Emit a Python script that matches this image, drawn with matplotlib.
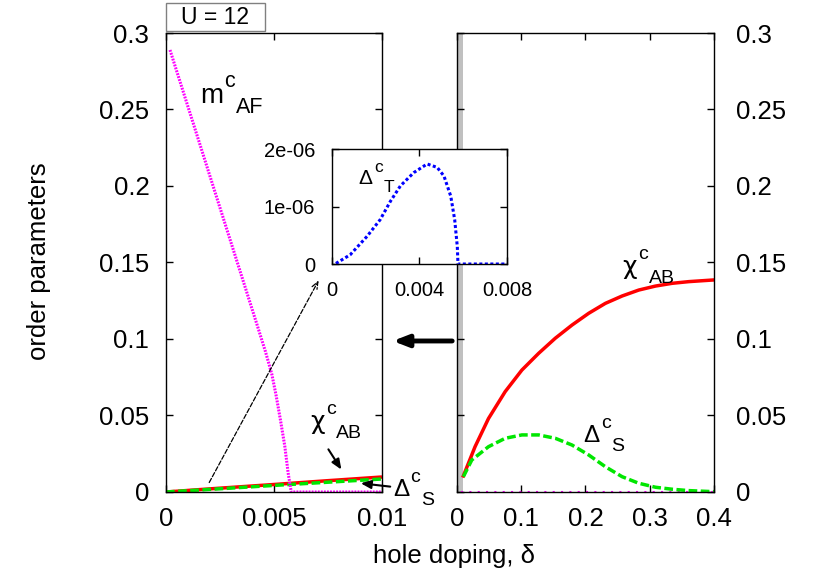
import numpy as np
import matplotlib
matplotlib.use('Agg')
import matplotlib.pyplot as plt
from matplotlib.patches import Rectangle

plt.rcParams['font.family'] = ['Liberation Sans', 'DejaVu Sans']

# ---- data ----
# left panel, 0 <= delta <= 0.01
mAF_x = [0.000185, 0.0012, 0.0022, 0.0032, 0.0042, 0.0046, 0.0049, 0.0051, 0.0053, 0.0055, 0.00566,
         0.0058, 0.006, 0.008, 0.01]
mAF_y = [0.2889, 0.2437, 0.1991, 0.1546, 0.1100, 0.092, 0.077, 0.063, 0.047, 0.030, 0.012,
         0.0, 0.0, 0.0, 0.0]
chiL_x = [0, 0.0025, 0.005, 0.0075, 0.01]
chiL_y = [0, 0.0025, 0.0049, 0.0074, 0.0098]
dSL_x = [0, 0.0025, 0.005, 0.0075, 0.01]
dSL_y = [0, 0.0021, 0.0043, 0.0064, 0.0085]

# right panel, 0 <= delta <= 0.4
chiR_x = [0.0099, 0.0281, 0.049, 0.075, 0.101, 0.127, 0.153, 0.179, 0.205, 0.231, 0.257,
          0.283, 0.309, 0.335, 0.361, 0.4]
chiR_y = [0.0105, 0.0296, 0.0480, 0.0656, 0.0797, 0.0906, 0.1005, 0.1091, 0.1168, 0.1233, 0.1281,
          0.1320, 0.1346, 0.1364, 0.1375, 0.1386]
dSR_x = [0.0099, 0.023, 0.049, 0.075, 0.101, 0.127, 0.153, 0.179, 0.205, 0.231, 0.257,
         0.283, 0.309, 0.335, 0.361, 0.4]
dSR_y = [0.0100, 0.0209, 0.0296, 0.0351, 0.0373, 0.0373, 0.0351, 0.0307, 0.0242, 0.0165, 0.0100,
         0.0057, 0.0031, 0.0018, 0.0009, 0.0002]
mAFR_x = [0.006, 0.4]
mAFR_y = [0.0, 0.0]

# inset, triplet gap
dT_x = [0.00018, 0.00083, 0.0016, 0.0022, 0.00267, 0.00313, 0.00374, 0.00435, 0.00481, 0.00512,
        0.00543, 0.00561, 0.00573, 0.00576, 0.006, 0.007, 0.008]
dT_y = [0.01e-6, 0.16e-6, 0.48e-6, 0.77e-6, 1.09e-6, 1.36e-6, 1.59e-6, 1.74e-6, 1.68e-6, 1.53e-6,
        1.18e-6, 0.77e-6, 0.30e-6, 0, 0, 0, 0]

left_xticks = [0, 0.005, 0.01]
left_xlabels = ['0', '0.005', '0.01']
right_xticks = [0, 0.1, 0.2, 0.3, 0.4]
right_xlabels = ['0', '0.1', '0.2', '0.3', '0.4']
yticks = [0, 0.05, 0.1, 0.15, 0.2, 0.25, 0.3]
ylabels = ['0', '0.05', '0.1', '0.15', '0.2', '0.25', '0.3']
inset_xticks = [0, 0.004, 0.008]
inset_xlabels = ['0', '0.004', '0.008']
inset_yticks = [0, 1e-6, 2e-6]
inset_ylabels = ['0', '1e-06', '2e-06']

RED = '#ff0000'
GREEN = '#00e600'
MAG = '#ff00ff'
BLUE = '#0000ff'
FS = 18.5

fig = plt.figure(figsize=(8.3, 5.81), dpi=100)
renderer = fig.canvas.get_renderer()
ax1 = fig.add_axes([0.2, 0.1532, 0.2602, 0.79])
ax2 = fig.add_axes([0.5506, 0.1532, 0.3096, 0.79])
ax3 = fig.add_axes([0.4, 0.5456, 0.2108, 0.1979])


def curve_label(ax, x, y, base, sup, sub, fs, sfs, family=None):
    # gnuplot style label: base, then superscript, then subscript after it
    t = ax.text(x, y, base, fontsize=fs, ha='left', va='baseline', family=family)
    w = t.get_window_extent(renderer).width * 72 / fig.dpi
    s = ax.annotate(sup, (x, y), xytext=(w + 1, 0.58 * fs), textcoords='offset points',
                    fontsize=sfs, va='baseline', annotation_clip=False)
    w2 = s.get_window_extent(renderer).width * 72 / fig.dpi
    ax.annotate(sub, (x, y), xytext=(w + 1.5 + w2, -0.36 * fs), textcoords='offset points',
                fontsize=sfs, va='baseline', annotation_clip=False)


for ax in (ax1, ax2, ax3):
    for s in ax.spines.values():
        s.set_linewidth(1.0)
    ax.tick_params(direction='in', top=True, right=True, length=5, width=1)

# left panel
ax1.plot(chiL_x, chiL_y, color=RED, lw=2.5, solid_capstyle='butt')
ax1.plot(dSL_x, dSL_y, color=GREEN, lw=2.5, ls=(0, (2.5, 1)))
ax1.plot(mAF_x, mAF_y, color=MAG, lw=2.2, ls=(0, (0.6, 0.4)))
ax1.set_xlim(0, 0.01)
ax1.set_ylim(0, 0.3)
ax1.set_xticks(left_xticks, left_xlabels)
ax1.set_yticks(yticks, ylabels)
ax1.tick_params(axis='both', labelsize=FS)
ax1.tick_params(axis='y', pad=12)
ax1.tick_params(axis='x', pad=11)

# right panel
ax2.axvspan(0, 0.01, color='#c0c0c0', lw=0)
ax2.plot(mAFR_x, mAFR_y, color=MAG, lw=1.5, ls=(0, (1, 3)), clip_on=False)
ax2.plot(chiR_x, chiR_y, color=RED, lw=2.5)
ax2.plot(dSR_x, dSR_y, color=GREEN, lw=2.5, ls=(0, (2.5, 1)))
ax2.set_xlim(0, 0.4)
ax2.set_ylim(0, 0.3)
ax2.set_xticks(right_xticks, right_xlabels)
ax2.set_yticks(yticks, ylabels)
ax2.tick_params(axis='both', labelsize=FS)
ax2.tick_params(axis='y', labelleft=False, labelright=True, pad=16)
ax2.tick_params(axis='x', pad=11)

# inset
ax3.plot(dT_x, dT_y, color=BLUE, lw=2.2, ls=(0, (1, 0.8)))
ax3.set_xlim(0, 0.008)
ax3.set_ylim(0, 2e-6)
ax3.set_xticks(inset_xticks, inset_xlabels)
ax3.set_yticks(inset_yticks, inset_ylabels)
ax3.tick_params(axis='both', labelsize=14.5)
ax3.tick_params(axis='y', pad=12)
ax3.tick_params(axis='x', pad=12)

# curve labels
curve_label(ax1, 0.00157, 0.2542, 'm', 'c', 'AF', 20, 15.5)
curve_label(ax1, 0.00667, 0.0412, 'χ', 'c', 'AB', 18, 14, family='DejaVu Sans')
curve_label(ax1, 0.0105, -0.0026, 'Δ', 'c', 'S', 17.5, 14)
curve_label(ax2, 0.2573, 0.1425, 'χ', 'c', 'AB', 18, 14, family='DejaVu Sans')
curve_label(ax2, 0.1969, 0.0327, 'Δ', 'c', 'S', 17.5, 14)
curve_label(ax3, 0.00121, 1.386e-6, 'Δ', 'c', 'T', 15, 12.5)

# arrows
ax1.annotate('', xy=(0.00819, 0.0131), xytext=(0.00745, 0.0294),
             arrowprops=dict(arrowstyle='-|>,head_length=0.6,head_width=0.25', color='black', lw=1.5))
ax1.annotate('', xy=(0.00889, 0.0059), xytext=(0.01051, 0.0033), annotation_clip=False,
             arrowprops=dict(arrowstyle='-|>,head_length=0.6,head_width=0.25', color='black', lw=1.5))
ax1.annotate('', xy=(0.00713, 0.1399), xytext=(0.00194, 0.0046),
             arrowprops=dict(arrowstyle='->,head_length=0.5,head_width=0.2', color='black', lw=0.9, ls='--'))
ax1.annotate('', xy=(0.01037, 0.0987), xytext=(0.01338, 0.0987), annotation_clip=False,
             arrowprops=dict(arrowstyle='-|>,head_length=0.9,head_width=0.35', color='black', lw=3.5))

# U = 12 box
fig.patches.append(Rectangle((0.2, 0.9466), 0.1193, 0.0482, transform=fig.transFigure,
                             fill=False, ec='#808080', lw=1))
fig.text(0.2596, 0.9707, 'U = 12', fontsize=16.5, ha='center', va='center')

# axis labels
fig.text(454 / 830, 1 - 556 / 581, 'hole doping, δ', fontsize=FS, ha='center', va='center')
fig.text(39 / 830, 1 - 261 / 581, 'order parameters', fontsize=FS, ha='center', va='center', rotation=90)

fig.savefig('out.png', dpi=100)
